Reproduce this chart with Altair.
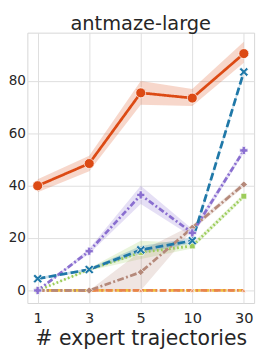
import altair as alt
import pandas as pd

n_traj = [1, 3, 5, 10, 30]
series = ["M1", "M2", "M3", "M4", "M5", "M6", "M7"]
colors = ["#f0c23c", "#e8834f", "#9ccc5a", "#b5897a", "#8a6fd0", "#1f78a8", "#dc4a14"]

means = {
    "M1": [0, 0, 0, 0, 0],
    "M2": [0, 0, 0, 0, 0],
    "M3": [0, 8, 14.5, 17, 36],
    "M4": [0, 0, 7, 24, 40.5],
    "M5": [0, 15, 36.5, 22, 53.5],
    "M6": [4.5, 8, 15.5, 19, 83.5],
    "M7": [40, 48.5, 75.5, 73.5, 90.5],
}
lows = {
    "M1": [0, 0, 0, 0, 0],
    "M2": [0, 0, 0, 0, 0],
    "M3": [0, 7.5, 12, 16, 35],
    "M4": [0, 0, 0, 23, 39.5],
    "M5": [0, 14, 33, 20.5, 52.5],
    "M6": [4, 7.5, 14, 18, 82.5],
    "M7": [37.5, 45.5, 71, 70.5, 87],
}
highs = {
    "M1": [0, 0, 0, 0, 0],
    "M2": [0, 0, 0, 0, 0],
    "M3": [0, 8.5, 19, 18, 37],
    "M4": [0, 0, 15, 25, 41.5],
    "M5": [0, 16, 40, 23.5, 54.5],
    "M6": [5, 8.5, 17, 20, 84.5],
    "M7": [42.5, 51.5, 80, 77, 95],
}

dashes = [[6, 3], [7, 2.5, 2, 2.5], [1.8, 2.4], [7, 2.5, 2, 2.5], [6, 2.5, 2, 2.5], [8, 3.5], [1, 0]]
x_path = "M-1,-0.6L-0.6,-1L0,-0.4L0.6,-1L1,-0.6L0.4,0L1,0.6L0.6,1L0,0.4L-0.6,1L-1,0.6L-0.4,0Z"
shapes = ["triangle-up", "triangle-up", "square", "diamond", "cross", x_path, "circle"]
sizes = [0, 105, 70, 95, 95, 85, 100]

rows = []
for s in series:
    for i, n in enumerate(n_traj):
        rows.append({"series": s, "n": n, "mean": means[s][i], "lo": lows[s][i], "hi": highs[s][i]})
df = pd.DataFrame(rows)

yscale = alt.Scale(domain=[-4.8, 98.5], nice=False, zero=False)
x = alt.X("n:O", scale=alt.Scale(type="point", padding=0.2),
          axis=alt.Axis(title="# expert trajectories", labelAngle=0))
y = alt.Y("mean:Q", scale=yscale, axis=alt.Axis(title=None, values=[0, 20, 40, 60, 80]))
color = alt.Color("series:N", scale=alt.Scale(domain=series, range=colors), legend=None)

base = alt.Chart(df)

bands = base.mark_area(opacity=0.22).encode(
    x=x, y=alt.Y("lo:Q", scale=yscale), y2="hi:Q", color=color,
)
lines = base.mark_line(strokeWidth=2.8).encode(
    x=x, y=y, color=color,
    strokeDash=alt.StrokeDash("series:N", scale=alt.Scale(domain=series, range=dashes), legend=None),
)
points = base.mark_point(filled=True, opacity=1, stroke="white", strokeWidth=0.7).encode(
    x=x, y=y,
    fill=alt.Fill("series:N", scale=alt.Scale(domain=series, range=colors), legend=None),
    shape=alt.Shape("series:N", scale=alt.Scale(domain=series, range=shapes), legend=None),
    size=alt.Size("series:N", scale=alt.Scale(domain=series, range=sizes), legend=None),
)

chart = alt.layer(bands, lines, points).properties(
    width=234, height=279,
    title=alt.TitleParams("antmaze-large", fontSize=20, font="DejaVu Sans", color="#262626",
                          fontWeight="normal", anchor="middle", baseline="alphabetic", offset=-17),
    autosize=alt.AutoSizeParams(type="none"),
    padding={"left": 20, "top": 20, "right": 4, "bottom": 42},
).configure_view(
    stroke="#d6d6d6", strokeWidth=1
).configure_axis(
    grid=True, gridColor="#dedede", gridWidth=1, domain=False, ticks=False,
    labelFont="DejaVu Sans", labelFontSize=15, labelColor="#262626", labelPadding=8,
    titleFont="DejaVu Sans", titleFontSize=21, titleColor="#262626", titleFontWeight="normal",
    titlePadding=3,
).configure_axisY(labelFontSize=14, labelPadding=2)

chart.save("out.html", embed_options={"renderer": "svg", "actions": False})
